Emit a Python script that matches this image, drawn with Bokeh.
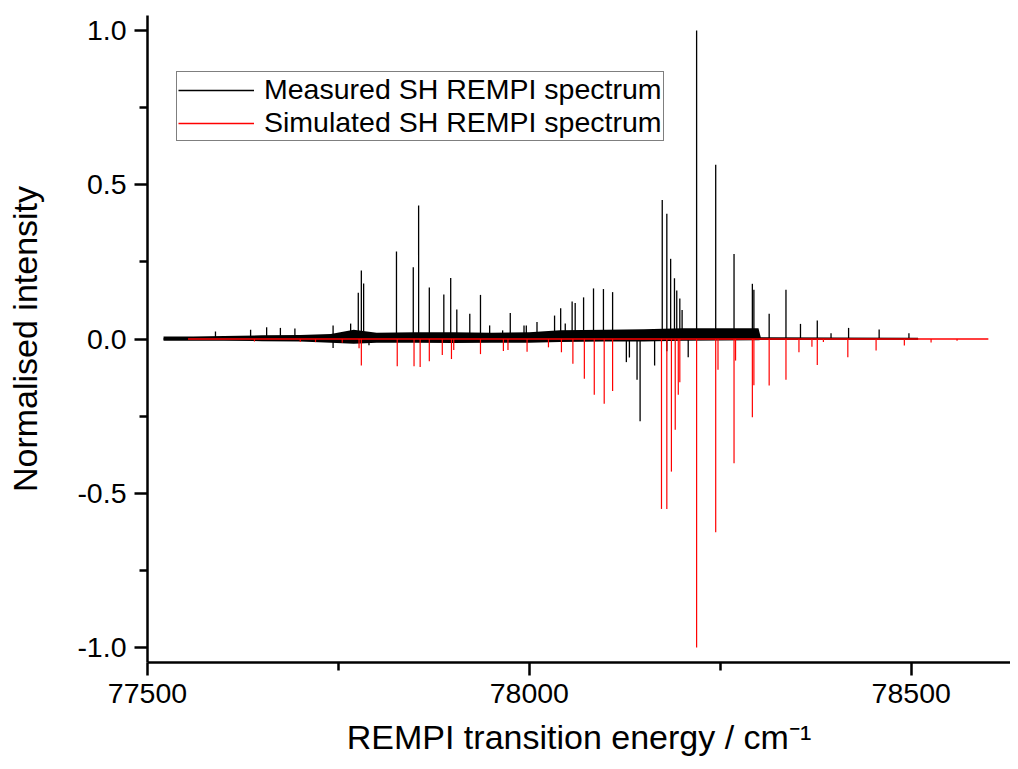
from bokeh.plotting import figure
from bokeh.models import Range1d, FixedTicker, PrintfTickFormatter, Legend, LegendItem, ColumnDataSource
from bokeh.embed import file_html
from bokeh.resources import INLINE

# ---------------- data ----------------
x_major_ticks = [77500, 78000, 78500]
x_minor_ticks = [77750, 78250]
y_major_ticks = [-1.0, -0.5, 0.0, 0.5, 1.0]
y_minor_ticks = [-0.75, -0.25, 0.25, 0.75]

measured_label = "Measured SH REMPI spectrum"
simulated_label = "Simulated SH REMPI spectrum"

# measured spectrum extent
meas_start = 77521
meas_end = 78509

# measured spectrum: noise envelope
env_x = [77521, 77560, 77600, 77650, 77700, 77740, 77770, 77800, 77850, 77900,
         77950, 78000, 78040, 78100, 78150, 78200, 78250, 78300, 78303, 78400, 78509]
env_hi = [0.008, 0.008, 0.010, 0.012, 0.013, 0.016, 0.030, 0.020, 0.022, 0.022,
          0.020, 0.022, 0.028, 0.030, 0.032, 0.035, 0.035, 0.035, 0.006, 0.005, 0.004]
env_lo = [-0.006, -0.006, -0.006, -0.007, -0.008, -0.012, -0.015, -0.012, -0.012, -0.013,
          -0.012, -0.012, -0.010, -0.008, -0.008, -0.006, -0.005, -0.004, -0.003, -0.002, -0.002]

# measured spectrum: lines (position / cm-1, normalised intensity)
meas_x = [77589, 77635, 77656, 77674, 77693, 77743, 77766, 77776, 77780, 77783,
          77826, 77848, 77855, 77869, 77888, 77897, 77905, 77922, 77936, 77948,
          77965, 77975, 77993, 77996, 78010, 78033, 78041, 78047, 78056, 78060,
          78071, 78084, 78097, 78109, 78174, 78180, 78185, 78190, 78193, 78197,
          78200, 78219, 78244, 78268, 78292, 78294, 78314, 78336, 78355, 78377,
          78395, 78418, 78458, 78497,
          77743, 77790, 78127, 78131, 78141, 78145, 78164, 78180, 78208]
meas_y = [0.024, 0.030, 0.038, 0.036, 0.034, 0.044, 0.050, 0.150, 0.222, 0.180,
          0.284, 0.233, 0.433, 0.167, 0.144, 0.198, 0.096, 0.082, 0.143, 0.044,
          0.028, 0.084, 0.044, 0.044, 0.055, 0.076, 0.100, 0.050, 0.122, 0.117,
          0.135, 0.164, 0.162, 0.152, 0.451, 0.406, 0.260, 0.197, 0.157, 0.131,
          0.094, 1.000, 0.565, 0.276, 0.179, 0.160, 0.082, 0.160, 0.049, 0.060,
          0.019, 0.036, 0.031, 0.019,
          -0.029, -0.020, -0.075, -0.060, -0.132, -0.267, -0.086, -0.040, -0.059]

# simulated spectrum extent
sim_start = 77553
sim_end = 78601

# simulated spectrum: lines (plotted inverted)
sim_x = [77640, 77700, 77720, 77755, 77777, 77780, 77827, 77849, 77857, 77869,
         77886, 77898, 77901, 77936, 77966, 77972, 77997, 78025, 78042, 78057,
         78072, 78085, 78098, 78109, 78173, 78180, 78186, 78191, 78195, 78197,
         78219, 78244, 78247, 78268, 78270, 78292, 78294, 78314, 78336, 78353,
         78370, 78377, 78385, 78417, 78454, 78491, 78526, 78560]
sim_y = [-0.008, -0.010, -0.010, -0.012, -0.030, -0.086, -0.088, -0.088, -0.091, -0.072,
         -0.052, -0.065, -0.036, -0.049, -0.039, -0.036, -0.041, -0.027, -0.043, -0.080,
         -0.129, -0.181, -0.210, -0.169, -0.551, -0.551, -0.430, -0.294, -0.181, -0.140,
         -1.000, -0.627, -0.100, -0.403, -0.070, -0.254, -0.150, -0.151, -0.132, -0.043,
         -0.025, -0.084, -0.010, -0.059, -0.037, -0.021, -0.011, -0.006]

# ---------------- figure ----------------
FONT = "Liberation Sans"

p = figure(width=1010, height=761,
           x_range=Range1d(77500, 78630), y_range=Range1d(-1.049, 1.049),
           output_backend="svg", toolbar_location=None,
           min_border_left=147, min_border_right=0, min_border_top=15, min_border_bottom=99)
p.xgrid.visible = False
p.ygrid.visible = False
p.outline_line_color = None
p.background_fill_color = "white"
p.border_fill_color = "white"

# measured
env_src = ColumnDataSource(dict(x=env_x, hi=env_hi, lo=env_lo))
p.varea(x="x", y1="lo", y2="hi", source=env_src, fill_color="black")
meas_src = ColumnDataSource(dict(x=meas_x, y=meas_y, base=[0.0] * len(meas_x)))
p.segment(x0="x", y0="base", x1="x", y1="y", source=meas_src, line_color="black", line_width=1.3)
meas_line = p.line([meas_start, meas_end], [0.0, 0.0], line_color="black", line_width=1.5)

# simulated
sim_src = ColumnDataSource(dict(x=sim_x, y=sim_y, base=[0.0] * len(sim_x)))
p.segment(x0="x", y0="base", x1="x", y1="y", source=sim_src, line_color="red", line_width=1.2)
sim_line = p.line([sim_start, sim_end], [0.0, 0.0], line_color="red", line_width=1.5)

# axes
p.xaxis.ticker = FixedTicker(ticks=x_major_ticks, minor_ticks=x_minor_ticks)
p.yaxis.ticker = FixedTicker(ticks=y_major_ticks, minor_ticks=y_minor_ticks)
p.xaxis.formatter = PrintfTickFormatter(format="%d")
p.yaxis.formatter = PrintfTickFormatter(format="%.1f")
p.xaxis.axis_label = "REMPI transition energy / cm\u207b\u00b9"
p.yaxis.axis_label = "Normalised intensity"

for ax in (p.xaxis[0], p.yaxis[0]):
    ax.axis_line_color = "black"
    ax.axis_line_width = 2.5
    ax.major_tick_line_color = "black"
    ax.major_tick_line_width = 2.5
    ax.minor_tick_line_color = "black"
    ax.minor_tick_line_width = 2.5
    ax.major_tick_in = 0
    ax.major_tick_out = 13
    ax.minor_tick_in = 0
    ax.minor_tick_out = 8
    ax.major_label_text_font = FONT
    ax.major_label_text_font_size = "28.5px"
    ax.major_label_text_color = "black"
    ax.major_label_standoff = 8
    ax.axis_label_text_font = FONT
    ax.axis_label_text_font_size = "34px"
    ax.axis_label_text_font_style = "normal"
    ax.axis_label_text_color = "black"
p.xaxis[0].axis_label_standoff = 12
p.yaxis[0].axis_label_standoff = 30

# legend
legend = Legend(items=[LegendItem(label=measured_label, renderers=[meas_line]),
                       LegendItem(label=simulated_label, renderers=[sim_line])],
                location=(29, 521))
legend.border_line_color = "black"
legend.border_line_width = 1
legend.background_fill_alpha = 1
legend.label_text_font = FONT
legend.label_text_font_size = "28.5px"
legend.label_text_color = "black"
legend.padding = 1
legend.spacing = 0
legend.margin = 0
legend.glyph_width = 76
legend.glyph_height = 30
legend.label_height = 30
legend.label_standoff = 10
p.add_layout(legend, "center")

open("out.html", "w").write(file_html(p, INLINE))
